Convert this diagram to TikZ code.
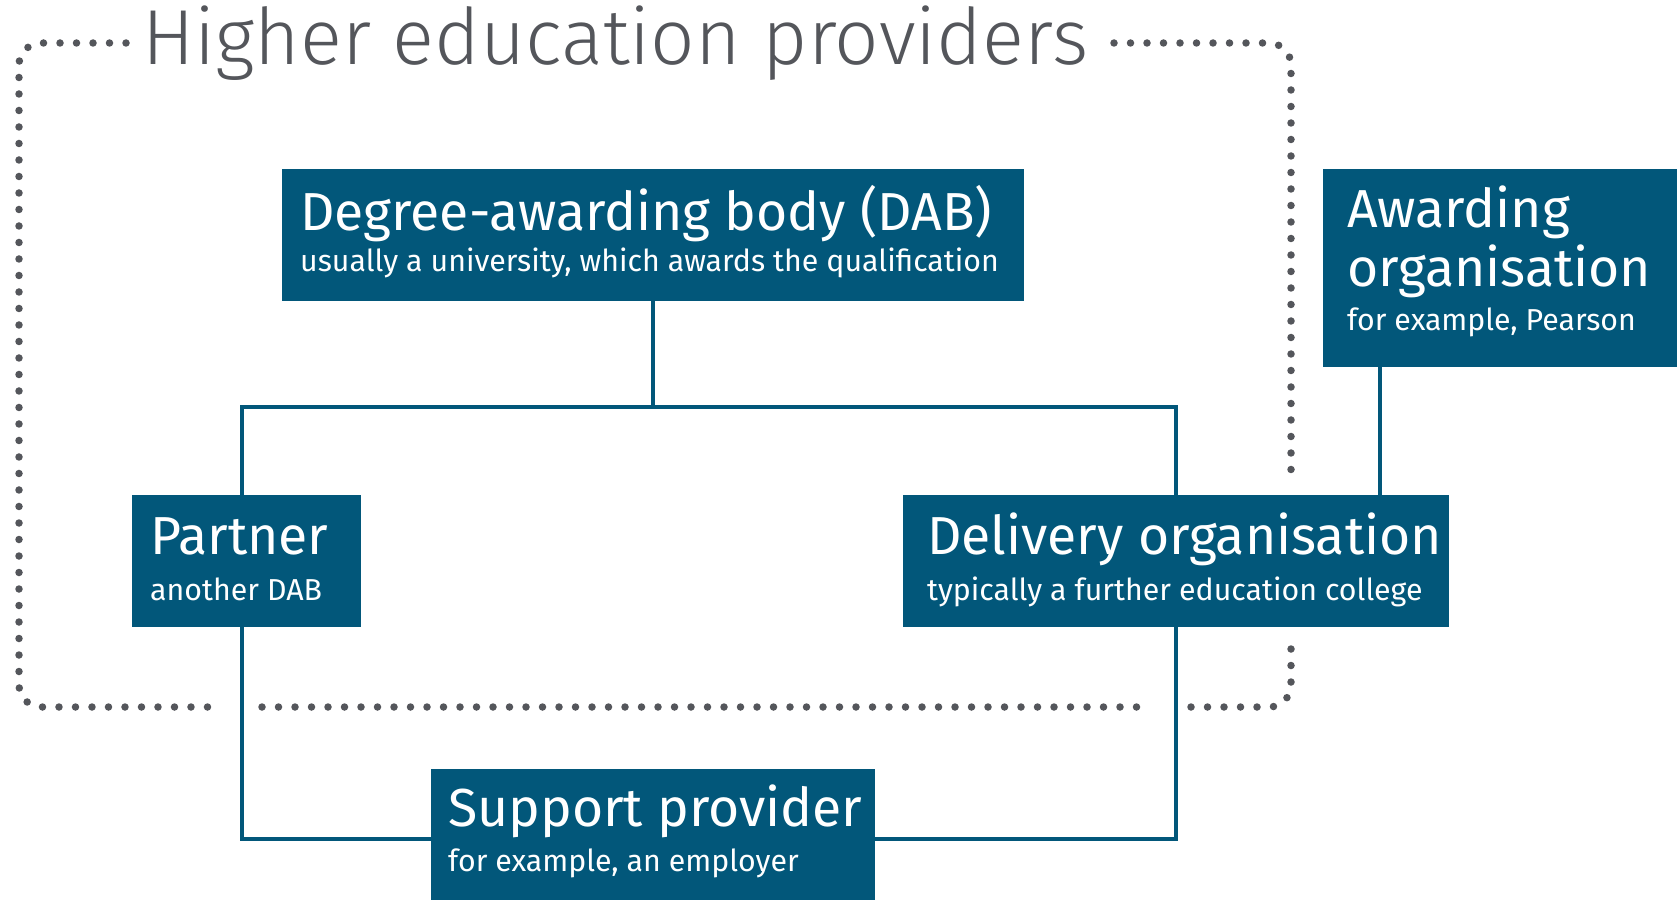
\documentclass[tikz,border=0pt]{standalone}
\usepackage{fontspec}
\setmainfont{Fira Sans}
\newfontfamily\lightfont{Fira Sans Light}
\usetikzlibrary{calc}
\definecolor{teal}{HTML}{02577A}
\definecolor{dotgrey}{HTML}{54565B}
\tikzset{
  box/.style={fill=teal, draw=none, inner sep=0pt, anchor=north west},
  head/.style={text=white, inner sep=0pt, anchor=base west, font=\fontsize{53.5}{60}\selectfont},
  sub/.style={text=white, inner sep=0pt, anchor=base west, font=\fontsize{30.3}{32}\selectfont},
  link/.style={draw=teal, line width=3.5pt},
  dots/.style={draw=dotgrey, line width=7.5pt, line cap=round, dash pattern=on 0pt off 16.5pt, rounded corners=22pt},
}
\begin{document}
\begin{tikzpicture}[x=1pt, y=-1pt]
\useasboundingbox (0,0) rectangle (1680,899);

% title
\node[anchor=base west, inner sep=0pt, text=dotgrey, font=\lightfont\fontsize{78}{80}\selectfont] (title) at (142,64) {Higher education providers};

% dotted outline of the provider group
\draw[dots] (126,43) -- (19,43) -- (19,707) -- (220,707);
\draw[dots] (262,707) -- (1149,707);
\draw[dots] (1191,707) -- (1291,707) -- (1291,637);
\draw[dots] (1114,43) -- (1291,43) -- (1291,480);

% boxes
\node[box, minimum width=742pt, minimum height=132pt] (dab) at (282,169) {};
\node[head] (dabT) at (300,230) {Degree-awarding body (DAB)};
\node[sub]  (dabS) at (300,271) {usually a university, which awards the qualification};

\node[box, minimum width=354pt, minimum height=198pt] (award) at (1323,169) {};
\node[head] (awardT1) at (1347,227) {Awarding};
\node[head] (awardT2) at (1347,286) {organisation};
\node[sub]  (awardS)  at (1347,330) {for example, Pearson};

\node[box, minimum width=229pt, minimum height=132pt] (partner) at (132,495) {};
\node[head] (partnerT) at (150,554) {Partner};
\node[sub]  (partnerS) at (150,600) {another DAB};

\node[box, minimum width=546pt, minimum height=132pt] (deliv) at (903,495) {};
\node[head] (delivT) at (927,554) {Delivery organisation};
\node[sub]  (delivS) at (927,600) {typically a further education college};

\node[box, minimum width=444pt, minimum height=140pt] (support) at (431,769) {};
\node[head] (supportT) at (448,826) {Support provider};
\node[sub]  (supportS) at (448,871) {for example, an employer};

% connectors
\coordinate (split) at (0,407);
\coordinate (ptop) at ($(partner.north)+(-4.5,0)$);
\coordinate (pbot) at ($(partner.south)+(-4.5,0)$);
\draw[link] (dab.south) -- (dab.south |- split);
\draw[link] (ptop) -- (ptop |- split) -- (deliv.north |- split) -- (deliv.north);
\coordinate (awardfoot) at ($(award.south west)+(57,0)$);
\draw[link] (awardfoot) -- (awardfoot |- deliv.north);
\draw[link] (pbot) |- (support.west);
\draw[link] (deliv.south) |- (support.east);
\end{tikzpicture}
\end{document}
